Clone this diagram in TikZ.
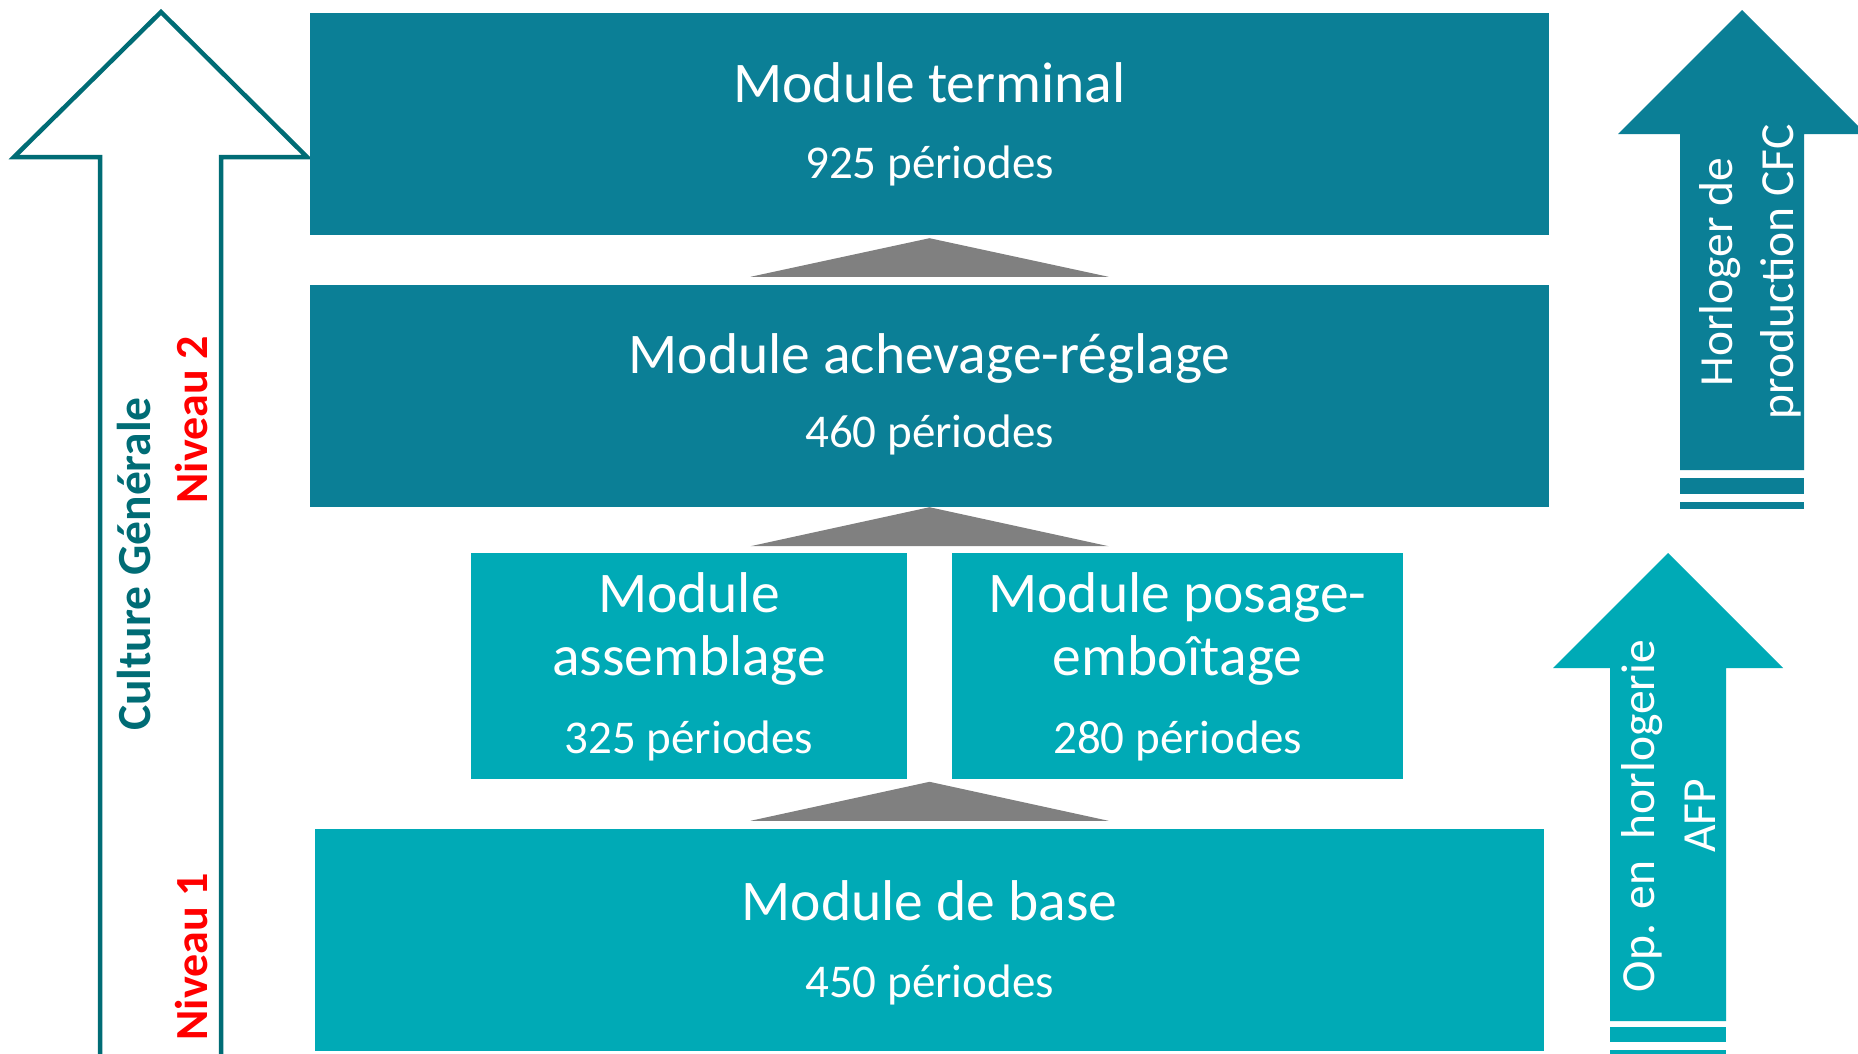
\documentclass[tikz,border=0pt]{standalone}
\usepackage{fontspec}
\setmainfont{Carlito}
\usetikzlibrary{calc}
\definecolor{darkteal}{RGB}{11,127,150}
\definecolor{lightteal}{RGB}{0,170,182}
\definecolor{outlineteal}{RGB}{0,108,117}
\definecolor{arrgray}{RGB}{128,128,128}
\definecolor{lvlred}{RGB}{255,0,0}
\begin{document}
\begin{tikzpicture}[x=1pt,y=-1pt,
  darkbox/.style={fill=darkteal, draw=none, minimum width=#1, minimum height=222pt, inner sep=0pt},
  lightbox/.style={fill=lightteal, draw=none, minimum width=#1, minimum height=222pt, inner sep=0pt},
  smallbox/.style={fill=lightteal, draw=none, minimum width=#1, minimum height=226pt, inner sep=0pt},
  titletext/.style={text=white, inner sep=0pt, anchor=base, font=\fontsize{57.5pt}{63pt}\selectfont},
  periodtext/.style={text=white, inner sep=0pt, anchor=base, font=\fontsize{47pt}{56pt}\selectfont},
  sidetext/.style={text=white, inner sep=0pt, rotate=90, align=center, font=\fontsize{47.5pt}{61pt}\selectfont},
  leveltext/.style={text=lvlred, inner sep=0pt, rotate=90, anchor=base, font=\bfseries\fontsize{46pt}{55pt}\selectfont},
  levelgap/.style={fill=arrgray}
]
\clip (0,0) rectangle (1858,1053);
\fill[white] (0,0) rectangle (1858,1053);

% Left outline arrow (Culture Generale)
\draw[outlineteal, line width=4.5pt, line join=miter]
  (100,1070) -- (100,157) -- (14,157) -- (161,12) -- (307,157) -- (221,157) -- (221,1070);
\node[rotate=90, anchor=base, inner sep=0pt, text=outlineteal,
      font=\bfseries\fontsize{47.5pt}{57pt}\selectfont] (cg) at (150,564) {Culture Générale};
\node[leveltext] (niv2) at (207,420) {Niveau 2};
\node[leveltext] (niv1) at (207,957) {Niveau 1};

% Boxes
\node[darkbox=1239pt] (b1) at (929.5,124) {};
\node[darkbox=1239pt] (b2) at (929.5,396) {};
\node[smallbox=436pt] (s1) at (689,666) {};
\node[smallbox=451pt] (s2) at (1177.5,666) {};
\node[lightbox=1229pt] (b0) at (929.5,940) {};

% Box texts
\node[titletext] (b1t) at (929.5,102) {Module terminal};
\node[periodtext] (b1p) at (929.5,178) {925 périodes};
\node[titletext] (b2t) at (929.5,373) {Module achevage-réglage};
\node[periodtext] (b2p) at (929.5,447) {460 périodes};
\node[titletext] (s1t) at (689,612) {Module};
\node[titletext] (s1u) at (689,675) {assemblage};
\node[periodtext] (s1p) at (689,753) {325 périodes};
\node[titletext] (s2t) at (1177.5,612) {Module posage-};
\node[titletext] (s2u) at (1177.5,675) {emboîtage};
\node[periodtext] (s2p) at (1177.5,753) {280 périodes};
\node[titletext] (b0t) at (929.5,920) {Module de base};
\node[periodtext] (b0p) at (929.5,997) {450 périodes};

% Gray triangles between levels
\fill[levelgap] ($(b1.south)+(0,3)$) -- ($(b2.north)+(-179,-8)$) -- ($(b2.north)+(179,-8)$) -- cycle;
\fill[levelgap] ($(b2.south)+(0,0)$) -- ($(b2.south)+(-179,39)$) -- ($(b2.south)+(179,39)$) -- cycle;
\fill[levelgap] ($(b0.north)+(0,-47)$) -- ($(b0.north)+(-179,-8)$) -- ($(b0.north)+(179,-8)$) -- cycle;

% Right top arrow (CFC)
\fill[darkteal] (1680,470) -- (1680,134) -- (1618,134) -- (1742,10) -- (1866,134) -- (1804,134) -- (1804,470) -- cycle;
\fill[darkteal] (1680,478) rectangle (1804,494);
\fill[darkteal] (1680,502) rectangle (1804,509);
\node[sidetext] (cfc) at (1750,272) {Horloger de\\production CFC};

% Right bottom arrow (AFP)
\fill[lightteal] (1610,1021) -- (1610,668) -- (1553,668) -- (1668,553) -- (1783,668) -- (1726,668) -- (1726,1021) -- cycle;
\fill[lightteal] (1610,1027) rectangle (1726,1042);
\fill[lightteal] (1610,1050) rectangle (1726,1060);
\node[sidetext] (afp) at (1668,816) {Op. en\ \ horlogerie\\AFP};
\end{tikzpicture}
\end{document}
